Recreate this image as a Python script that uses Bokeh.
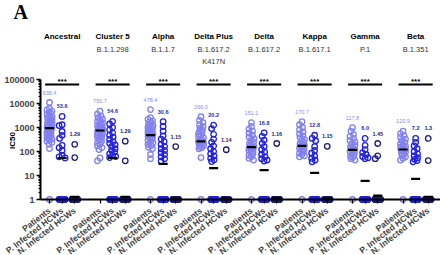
import math
from bokeh.plotting import figure
from bokeh.models import Range1d, FixedTicker, NumeralTickFormatter
from bokeh.core.properties import value
from bokeh.embed import file_html
from bokeh.resources import INLINE

# ---------------- data ----------------
variants = ["Ancestral", "Cluster 5", "Alpha", "Delta Plus", "Delta", "Kappa", "Gamma", "Beta"]
lineages = ["", "B.1.1.298", "B.1.1.7", "B.1.617.2", "B.1.617.2", "B.1.617.1", "P.1", "B.1.351"]
lineages2 = ["", "", "", "K417N", "", "", "", ""]
cohorts = ["Patients", "P. Infected HCWs", "N. Infected HCWs"]
y_ticks = [1, 10, 100, 1000, 10000, 100000]

patients = [
    [11000, 6200, 5400, 4800, 4300, 3900, 3500, 3200, 2900, 2600, 2400, 2200, 2000, 1850, 1700, 1550, 1400,
     1300, 1200, 1100, 1000, 940, 880, 820, 760, 700, 640, 590, 540, 490, 450, 410, 370, 330, 300, 270, 240,
     200, 133, 1],
    [4800, 3600, 3000, 2600, 2300, 2000, 1800, 1600, 1450, 1300, 1200, 1100, 1000, 920, 850, 790, 750, 700,
     650, 600, 550, 500, 460, 420, 380, 340, 300, 260, 230, 200, 170, 145, 120, 54, 41],
    [5600, 2600, 2200, 1900, 1700, 1500, 1350, 1200, 1100, 1000, 900, 820, 750, 680, 620, 560, 510, 470, 430,
     390, 350, 320, 290, 260, 230, 200, 175, 150, 133, 75, 50, 1],
    [2800, 2000, 1600, 1300, 1100, 950, 800, 700, 620, 550, 480, 420, 370, 330, 300, 270, 250, 230, 210, 190,
     175, 160, 145, 130, 56, 1],
    [1600, 1100, 850, 700, 580, 480, 400, 340, 290, 250, 220, 195, 175, 160, 150, 140, 130, 120, 110, 100, 90,
     80, 70, 60, 52, 44, 1],
    [1750, 1300, 1000, 800, 650, 540, 450, 380, 320, 280, 240, 210, 190, 175, 165, 150, 135, 120, 108, 95, 85,
     75, 66, 60, 1],
    [980, 700, 520, 420, 350, 290, 250, 210, 180, 160, 145, 130, 120, 110, 100, 90, 80, 72, 64, 56, 50, 44, 1],
    [700, 560, 460, 390, 330, 280, 240, 210, 185, 165, 150, 135, 125, 115, 105, 95, 85, 76, 68, 60, 52, 44, 1],
]
p_infected = [
    [2900, 1300, 1200, 680, 470, 350, 180, 145, 110, 70, 60, 54],
    [1800, 1400, 1000, 800, 600, 480, 400, 320, 260, 220, 190, 160, 130, 110, 95, 80, 70, 62, 56],
    [1750, 1100, 700, 450, 330, 260, 200, 160, 130, 110, 90, 75, 60, 50, 40],
    [1250, 900, 520, 330, 240, 170, 130, 100, 80, 65, 52, 45, 38],
    [600, 430, 300, 220, 160, 120, 95, 75, 60, 50, 44, 40],
    [475, 350, 280, 160, 110, 85, 65, 52, 44, 37],
    [350, 180, 120, 90, 75, 62, 55, 50],
    [350, 240, 170, 130, 100, 80, 65, 55, 47, 42, 37],
]
p_infected_ones = [16, 16, 16, 16, 16, 16, 16, 16]
n_infected = [
    [200, 56],
    [270, 41],
    [160],
    [118],
    [215],
    [165],
    [215, 66, 50],
    [350, 42],
]
n_infected_ones = [20, 20, 20, 20, 20, 20, 20, 20]
patients_gm = ["938.4", "750.7", "478.4", "266.0", "151.1", "170.7", "117.8", "120.9"]
p_infected_gm = ["53.6", "54.6", "30.6", "20.2", "16.8", "12.8", "6.0", "7.2"]
n_infected_gm = ["1.29", "1.29", "1.15", "1.14", "1.16", "1.15", "1.45", "1.3"]

# ---------------- layout constants ----------------
W, H = 440, 255
SLOT_PX = 12.625          # px per category slot
FIRST_PX = 49             # pixel column of first category
AXIS_PX = 40              # pixel column of the y axis
DEC_PX = 24.0             # px per decade
ONE_PX = 199              # pixel row of value 1


def sx(px):
    return (px - FIRST_PX) / SLOT_PX


def lvl(py):
    return 10 ** ((ONE_PX - py) / DEC_PX)


X0, X1 = sx(0), sx(W)
Y0, Y1 = lvl(H), lvl(0)

FONT = value("Liberation Sans")
C_PAT = "#8080f0"
C_PIN = "#2020e6"
C_NIN = "#1c1c7a"
C_PAT_TXT = "#8a8aee"
C_PIN_TXT = "#2a2ab8"
C_NIN_TXT = "#25257a"


def swarm(vals, cap_px, d_px):
    order = sorted(range(len(vals)), key=lambda i: -vals[i])
    placed = []
    offs = [0.0] * len(vals)
    n = int(cap_px * 2)
    cands = sorted([k * 0.5 for k in range(-n, n + 1)], key=lambda c: (abs(c), c))
    for i in order:
        ypx = math.log10(vals[i]) * DEC_PX
        best, bestd = 0.0, -1.0
        for c in cands:
            md = min([math.hypot(c - px, ypx - py) for px, py in placed], default=1e9)
            if md >= d_px:
                best = c
                break
            if md > bestd + 0.3:
                bestd, best = md, c
        offs[i] = best
        placed.append((best, ypx))
    return offs


p = figure(width=W, height=H, output_backend="svg", toolbar_location=None,
           x_range=Range1d(X0, X1), y_range=Range1d(Y0, Y1), y_axis_type="log",
           min_border_left=0, min_border_right=0, min_border_top=0, min_border_bottom=0)
p.outline_line_color = None
p.grid.visible = False
p.background_fill_color = "white"

# ---------------- points ----------------
columns = [(patients, [0] * 8, 0, C_PAT, 2.5),
           (p_infected, p_infected_ones, 1, C_PIN, 3.0),
           (n_infected, n_infected_ones, 2, C_NIN, 3.0)]
for data, ones, k, col, cap in columns:
    xs, ys = [], []
    for g in range(8):
        vals = list(data[g]) + [1] * ones[g]
        offs = swarm(vals, cap, 3.8)
        for v, o in zip(vals, offs):
            xs.append(4 * g + k + o / SLOT_PX)
            ys.append(v)
    p.scatter(xs, ys, marker="circle", size=5.5, fill_color=None, line_color=col, line_width=1.3)

# ---------------- central bars + value labels ----------------
for data, gms, k, tcol, weight in [(patients, patients_gm, 0, C_PAT_TXT, "normal"),
                                    (p_infected, p_infected_gm, 1, C_PIN_TXT, "bold"),
                                    (n_infected, n_infected_gm, 2, C_NIN_TXT, "bold")]:
    bx0, bx1, by, lx, ly = [], [], [], [], []
    for g in range(8):
        c = 4 * g + k
        bx0.append(c - 0.36)
        bx1.append(c + 0.36)
        by.append(float(gms[g]))
        lx.append(c)
        ly.append(max(data[g]) * 10 ** (10 / DEC_PX))
    p.segment(bx0, by, bx1, by, line_color="black", line_width=2.2)
    p.text(lx, ly, text=gms, text_font=FONT, text_font_size="5.5px", text_font_style=weight,
           text_color=tcol, text_align="center", text_baseline="middle")

# ---------------- titles, significance ----------------
cx = [4 * g + 1 for g in range(8)]
p.text(cx, [lvl(36)] * 8, text=variants, text_font=FONT, text_font_size="8px",
       text_font_style="bold", text_color="black", text_align="center", text_baseline="middle")
p.text(cx, [lvl(49)] * 8, text=lineages, text_font=FONT, text_font_size="7.5px",
       text_color="#333333", text_align="center", text_baseline="middle")
p.text(cx, [lvl(61)] * 8, text=lineages2, text_font=FONT, text_font_size="7.5px",
       text_color="#333333", text_align="center", text_baseline="middle")
p.segment([c - 1.35 for c in cx], [lvl(84)] * 8, [c + 1.35 for c in cx], [lvl(84)] * 8,
          line_color="black", line_width=1.8)
p.text(cx, [lvl(81)] * 8, text=["***"] * 8, text_font=FONT, text_font_size="8px",
       text_font_style="bold", text_color="black", text_align="center", text_baseline="middle")

p.text([sx(12)], [lvl(140)], text=["IC50"], angle=math.pi / 2, text_font=FONT, text_font_size="8px",
       text_font_style="bold", text_color="black", text_align="center", text_baseline="middle")
p.text([sx(13)], [lvl(11)], text=["A"], text_font=value("Liberation Serif"), text_font_size="20px",
       text_font_style="bold", text_color="black", text_align="left", text_baseline="middle")

# ---------------- axes ----------------
xa = p.xaxis[0]
ticks = [4 * g + k for g in range(8) for k in range(3)]
xa.ticker = FixedTicker(ticks=ticks)
xa.major_label_overrides = {t: cohorts[t % 4] for t in ticks}
xa.fixed_location = 1
xa.bounds = (sx(AXIS_PX), X1)
xa.major_label_orientation = 0.65
xa.major_label_text_font = "Liberation Sans"
xa.major_label_text_font_style = "bold"
xa.major_label_text_font_size = "8.5px"
xa.major_label_standoff = 6
xa.axis_line_width = 2
xa.axis_line_color = "black"
xa.major_tick_out = 4
xa.major_tick_in = 0
xa.major_tick_line_width = 1.2
xa.minor_tick_line_color = None

ya = p.yaxis[0]
minors = [m * 10 ** e for e in range(5) for m in range(2, 10)]
ya.ticker = FixedTicker(ticks=y_ticks, minor_ticks=minors)
ya.formatter = NumeralTickFormatter(format="0")
ya.fixed_location = sx(AXIS_PX)
ya.bounds = (1, 100000)
ya.major_label_text_font = "Liberation Sans"
ya.major_label_text_font_style = "bold"
ya.major_label_text_font_size = "9px"
ya.major_label_standoff = 2
ya.axis_line_width = 2
ya.major_tick_out = 4
ya.major_tick_in = 0
ya.minor_tick_out = 2
ya.minor_tick_in = 0
ya.major_tick_line_width = 1.5

open("out.html", "w").write(file_html(p, INLINE))
